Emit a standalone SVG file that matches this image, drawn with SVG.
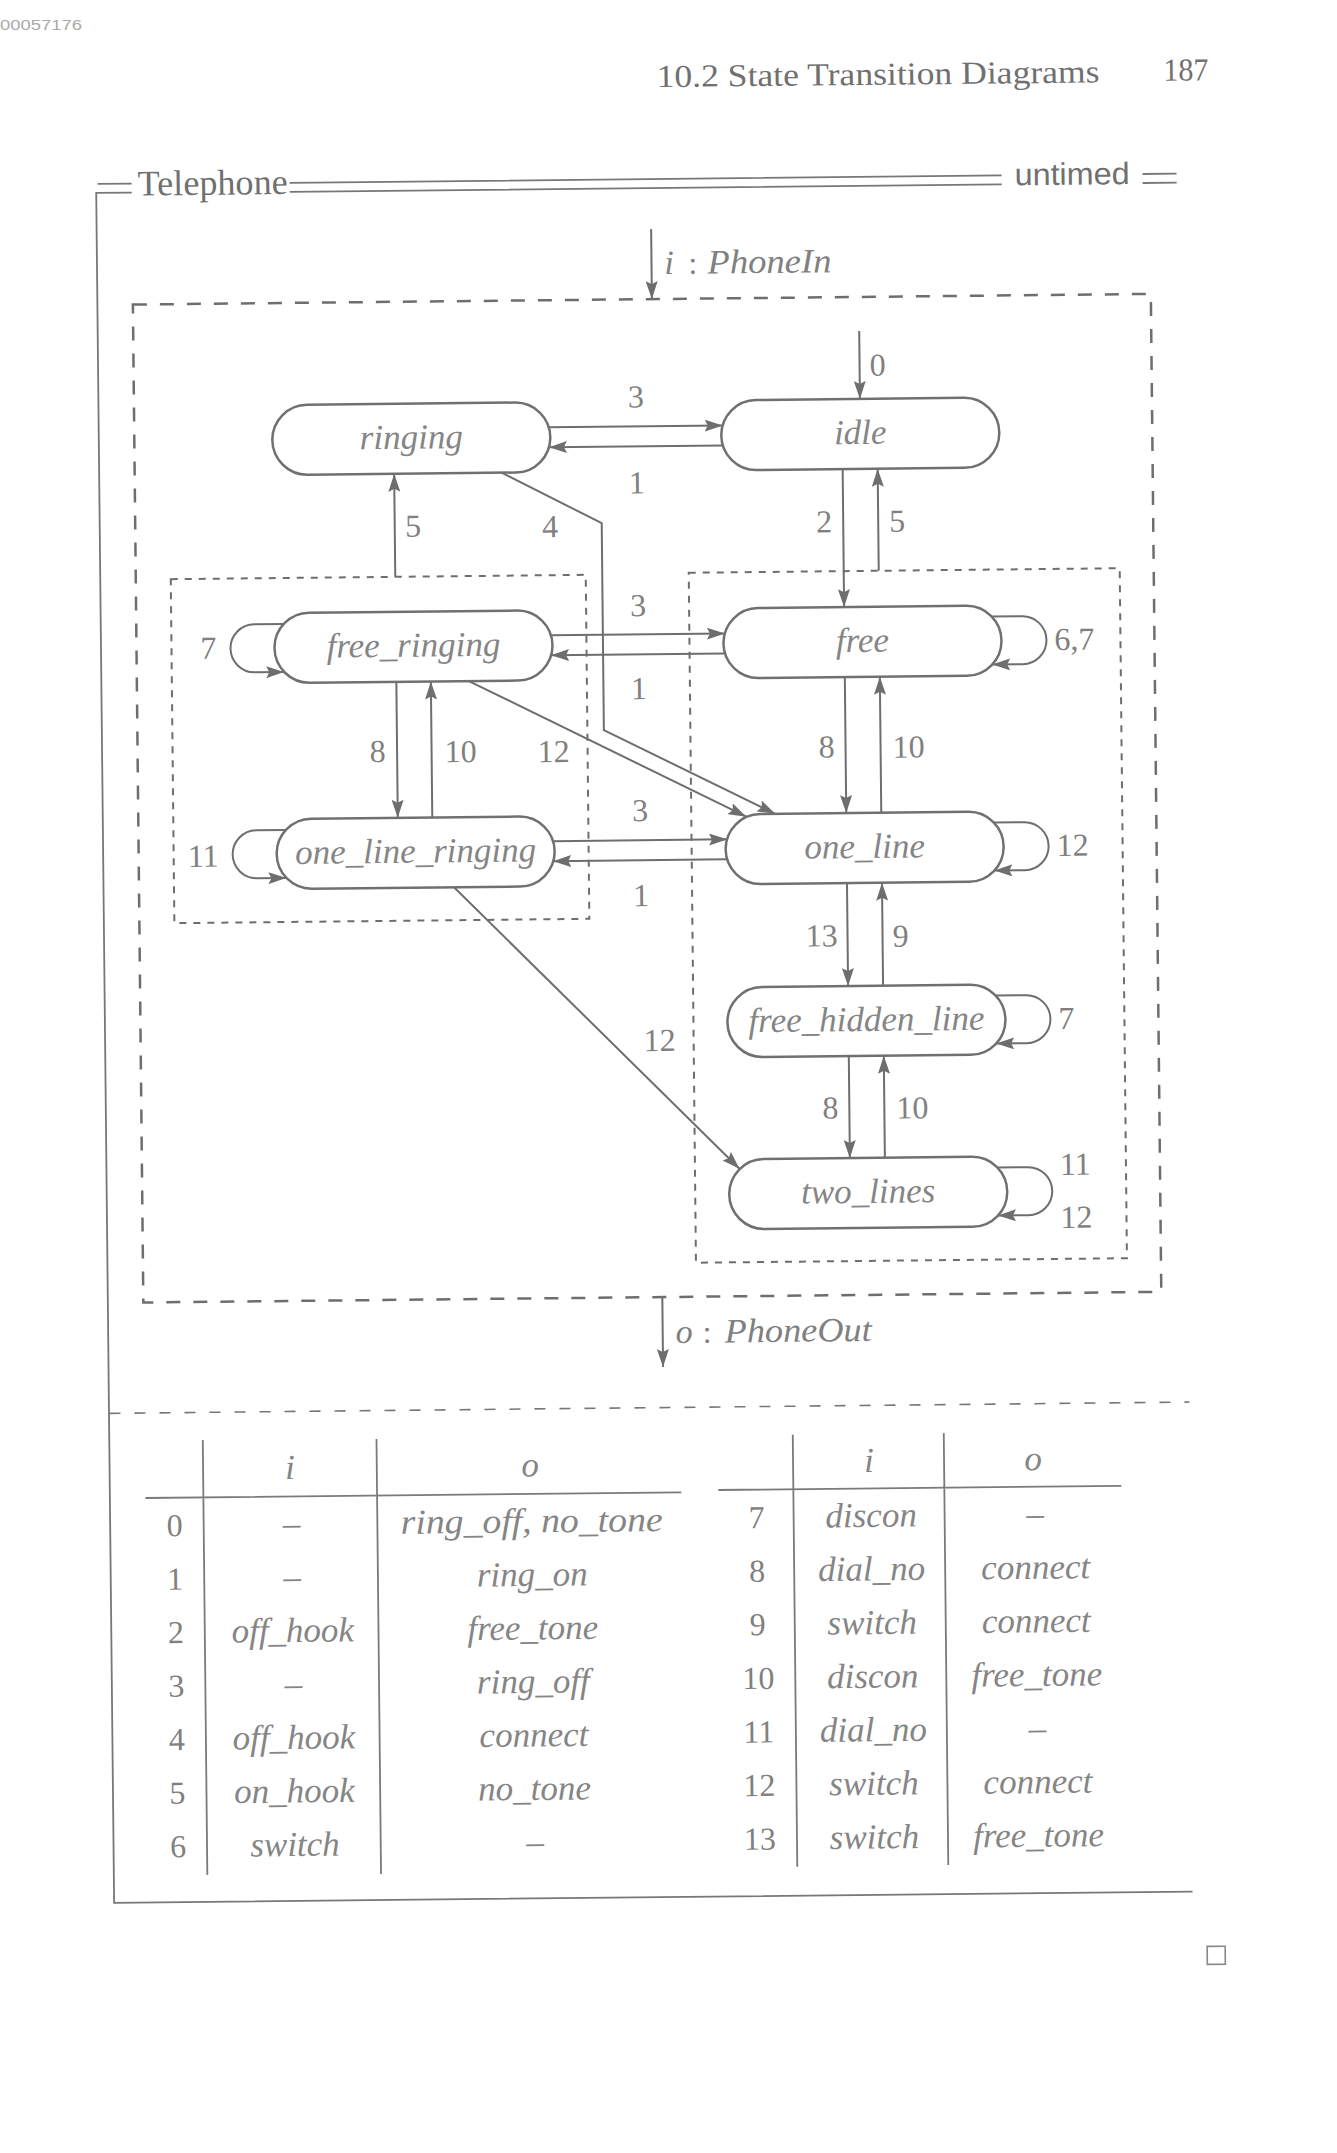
<svg xmlns="http://www.w3.org/2000/svg" width="1337" height="2153" viewBox="0 0 1337 2153">
<style>
.ln{fill:none;stroke:#6e6e6e;stroke-width:2}
.frame{fill:none;stroke:#777;stroke-width:1.8}
.box-outer{fill:none;stroke:#6e6e6e;stroke-width:2.5;stroke-dasharray:14 13}
.box-inner{fill:none;stroke:#6e6e6e;stroke-width:2;stroke-dasharray:7 7}
.sep{fill:none;stroke:#777;stroke-width:1.6;stroke-dasharray:11 14}
.node rect{fill:#fff;stroke:#707070;stroke-width:2.5}
.node text{font-family:"Liberation Serif",serif;font-style:italic;font-size:35px;fill:#858585;text-anchor:middle}
.lbl{font-family:"Liberation Serif",serif;font-size:32px;fill:#808080;text-anchor:middle}
.ls{text-anchor:start}
.le{text-anchor:end}
.cell{font-family:"Liberation Serif",serif;font-style:italic;font-size:35px;fill:#858585;text-anchor:middle}
.num{font-family:"Liberation Serif",serif;font-size:32px;fill:#808080;text-anchor:middle}
.tl{fill:none;stroke:#7a7a7a;stroke-width:1.8}
</style>
<defs>
<marker id="ah" markerUnits="userSpaceOnUse" markerWidth="18" markerHeight="12" refX="18" refY="6" orient="auto">
<path d="M0,0 L18,6 L0,12 L3,6 z" fill="#6e6e6e"/>
</marker>
</defs>
<rect x="0" y="0" width="1337" height="2153" fill="#fff"/>
<text x="0" y="30" font-family="Liberation Sans, sans-serif" font-size="14" fill="#aaa" textLength="82" lengthAdjust="spacingAndGlyphs">00057176</text>
<g transform="rotate(-0.6 668 1076)">
<g id="page-header" font-family="Liberation Serif, serif" fill="#707070" font-size="32">
<text x="667" y="87" textLength="443" lengthAdjust="spacingAndGlyphs">10.2  State Transition Diagrams</text>
<text x="1174" y="86" textLength="45" lengthAdjust="spacingAndGlyphs">187</text>
</g>
<g id="schema-frame">
<path class="frame" d="M141,178 H107 M141,187 H105.5 V1897 H1184"/>
<path class="frame" d="M299,179 H1011 M299,188 H1011 M1152,179 H1186 M1152,188 H1186"/>
<text x="147" y="190" font-family="Liberation Serif, serif" font-size="36" fill="#707070" textLength="150" lengthAdjust="spacingAndGlyphs">Telephone</text>
<text x="1024" y="189" font-family="Liberation Sans, sans-serif" font-size="31" fill="#707070" textLength="115" lengthAdjust="spacingAndGlyphs">untimed</text>
<path class="sep" d="M106,1407.5 H1186"/>
</g>
<g id="boxes">
<rect class="box-outer" x="141" y="299" width="1018" height="998"/>
<rect class="box-inner" x="176" y="574" width="415" height="344"/>
<rect class="box-inner" x="694" y="573" width="431" height="690"/>
</g>
<g id="connectors" class="ln" marker-end="url(#ah)">
<path d="M660,229 V299"/>
<path d="M660,1297 V1367"/>
<path d="M867,333 V401"/>
<path d="M555.5,426 H729.5"/>
<path d="M729.5,446 H555.5"/>
<path d="M400.5,574 V471"/>
<path d="M508,471 L607.5,522.5 V729.5 L778,815"/>
<path d="M849,471 V609"/>
<path d="M884,573 V471"/>
<path d="M555.5,634 H729.5"/>
<path d="M729.5,654 H555.5"/>
<path d="M288.5,620 H259 A24,24 0 0 0 259,668 H288.5"/>
<path d="M400.5,679 V815"/>
<path d="M435,815 V679"/>
<path d="M473,679 L749,817.5"/>
<path d="M555.5,840 H729.5"/>
<path d="M729.5,860 H555.5"/>
<path d="M288.5,826 H259 A24,24 0 0 0 259,874 H288.5"/>
<path d="M456,885 L738.5,1169.5"/>
<path d="M996.5,620 H1027 A24,24 0 0 1 1027,668 H996.5"/>
<path d="M849,679 V815"/>
<path d="M884,815 V679"/>
<path d="M996.5,826 H1027 A24,24 0 0 1 1027,874 H996.5"/>
<path d="M849,885 V988"/>
<path d="M884,988 V885"/>
<path d="M996.5,999 H1027 A24,24 0 0 1 1027,1047 H996.5"/>
<path d="M849,1058 V1160"/>
<path d="M884,1160 V1058"/>
<path d="M996.5,1171 H1027 A24,24 0 0 1 1027,1219 H996.5"/>
</g>
<g id="connector-labels">
<text x="673" y="274" font-family="Liberation Serif, serif" font-style="italic" font-size="34" fill="#808080">i</text>
<text x="697" y="274" font-family="Liberation Serif, serif" font-size="32" fill="#808080">:</text>
<text x="716" y="274" font-family="Liberation Serif, serif" font-style="italic" font-size="34" fill="#808080" textLength="124" lengthAdjust="spacingAndGlyphs">PhoneIn</text>
<text x="673" y="1343" font-family="Liberation Serif, serif" font-style="italic" font-size="34" fill="#808080">o</text>
<text x="700" y="1343" font-family="Liberation Serif, serif" font-size="32" fill="#808080">:</text>
<text x="722" y="1343" font-family="Liberation Serif, serif" font-style="italic" font-size="34" fill="#808080" textLength="147" lengthAdjust="spacingAndGlyphs">PhoneOut</text>
<text class="lbl ls" x="877" y="378">0</text>
<text class="lbl" x="643" y="407">3</text>
<text class="lbl" x="643" y="493">1</text>
<text class="lbl" x="419" y="534">5</text>
<text class="lbl" x="556" y="536">4</text>
<text class="lbl" x="830" y="534">2</text>
<text class="lbl" x="903" y="534">5</text>
<text class="lbl" x="643" y="616">3</text>
<text class="lbl" x="643" y="699">1</text>
<text class="lbl" x="381" y="759">8</text>
<text class="lbl" x="464" y="760">10</text>
<text class="lbl" x="557" y="761">12</text>
<text class="lbl" x="830" y="759">8</text>
<text class="lbl" x="912" y="760">10</text>
<text class="lbl" x="643" y="821">3</text>
<text class="lbl" x="643" y="906">1</text>
<text class="lbl" x="823" y="948">13</text>
<text class="lbl" x="902" y="949">9</text>
<text class="lbl" x="830" y="1120">8</text>
<text class="lbl" x="912" y="1121">10</text>
<text class="lbl" x="660" y="1051">12</text>
<text class="lbl le" x="221" y="654">7</text>
<text class="lbl le" x="221" y="862">11</text>
<text class="lbl ls" x="1059" y="654">6,7</text>
<text class="lbl ls" x="1059" y="860">12</text>
<text class="lbl ls" x="1059" y="1033">7</text>
<text class="lbl ls" x="1059" y="1179">11</text>
<text class="lbl ls" x="1059" y="1232">12</text>
</g>
<g id="node-ringing" class="node"><rect x="279" y="401" width="278" height="70" rx="35"/><text x="418" y="446">ringing</text></g>
<g id="node-idle" class="node"><rect x="728" y="401" width="278" height="70" rx="35"/><text x="867" y="446">idle</text></g>
<g id="node-free_ringing" class="node"><rect x="279" y="609" width="278" height="70" rx="35"/><text x="418" y="654">free_ringing</text></g>
<g id="node-free" class="node"><rect x="728" y="609" width="278" height="70" rx="35"/><text x="867" y="654">free</text></g>
<g id="node-one_line_ringing" class="node"><rect x="279" y="815" width="278" height="70" rx="35"/><text x="418" y="860">one_line_ringing</text></g>
<g id="node-one_line" class="node"><rect x="728" y="815" width="278" height="70" rx="35"/><text x="867" y="860">one_line</text></g>
<g id="node-free_hidden_line" class="node"><rect x="728" y="988" width="278" height="70" rx="35"/><text x="867" y="1033">free_hidden_line</text></g>
<g id="node-two_lines" class="node"><rect x="728" y="1160" width="278" height="70" rx="35"/><text x="867" y="1205">two_lines</text></g>
<g id="table-left">
<path class="tl" d="M199,1435 V1870 M372.7,1436 V1871 M141,1492.5 H677"/>
<text class="cell" x="286" y="1475">i</text>
<text class="cell" x="526" y="1475">o</text>
<text class="num" x="170" y="1531">0</text><text class="cell" x="287" y="1531">–</text><text class="cell" x="527" y="1531" textLength="262" lengthAdjust="spacingAndGlyphs">ring_off, no_tone</text>
<text class="num" x="170" y="1584.5">1</text><text class="cell" x="287" y="1584.5">–</text><text class="cell" x="527" y="1584.5">ring_on</text>
<text class="num" x="170" y="1638">2</text><text class="cell" x="287" y="1638">off_hook</text><text class="cell" x="527" y="1638">free_tone</text>
<text class="num" x="170" y="1691.5">3</text><text class="cell" x="287" y="1691.5">–</text><text class="cell" x="527" y="1691.5">ring_off</text>
<text class="num" x="170" y="1745">4</text><text class="cell" x="287" y="1745">off_hook</text><text class="cell" x="527" y="1745">connect</text>
<text class="num" x="170" y="1798.5">5</text><text class="cell" x="287" y="1798.5">on_hook</text><text class="cell" x="527" y="1798.5">no_tone</text>
<text class="num" x="170" y="1852">6</text><text class="cell" x="287" y="1852">switch</text><text class="cell" x="527" y="1852">–</text>
</g>
<g id="table-right">
<path class="tl" d="M789,1436 V1868 M940,1436 V1868 M714,1490.5 H1117"/>
<text class="cell" x="865" y="1474">i</text>
<text class="cell" x="1029" y="1474">o</text>
<text class="num" x="752" y="1529">7</text><text class="cell" x="866.5" y="1529">discon</text><text class="cell" x="1030.5" y="1529">–</text>
<text class="num" x="752" y="1582.6">8</text><text class="cell" x="866.5" y="1582.6">dial_no</text><text class="cell" x="1030.5" y="1582.6">connect</text>
<text class="num" x="752" y="1636.2">9</text><text class="cell" x="866.5" y="1636.2">switch</text><text class="cell" x="1030.5" y="1636.2">connect</text>
<text class="num" x="752" y="1689.8">10</text><text class="cell" x="866.5" y="1689.8">discon</text><text class="cell" x="1030.5" y="1689.8">free_tone</text>
<text class="num" x="752" y="1743.4">11</text><text class="cell" x="866.5" y="1743.4">dial_no</text><text class="cell" x="1030.5" y="1743.4">–</text>
<text class="num" x="752" y="1797">12</text><text class="cell" x="866.5" y="1797">switch</text><text class="cell" x="1030.5" y="1797">connect</text>
<text class="num" x="752" y="1850.6">13</text><text class="cell" x="866.5" y="1850.6">switch</text><text class="cell" x="1030.5" y="1850.6">free_tone</text>
</g>
<rect id="end-mark" x="1198" y="1952" width="18" height="18" fill="none" stroke="#888" stroke-width="1.6"/>
</g>
</svg>
